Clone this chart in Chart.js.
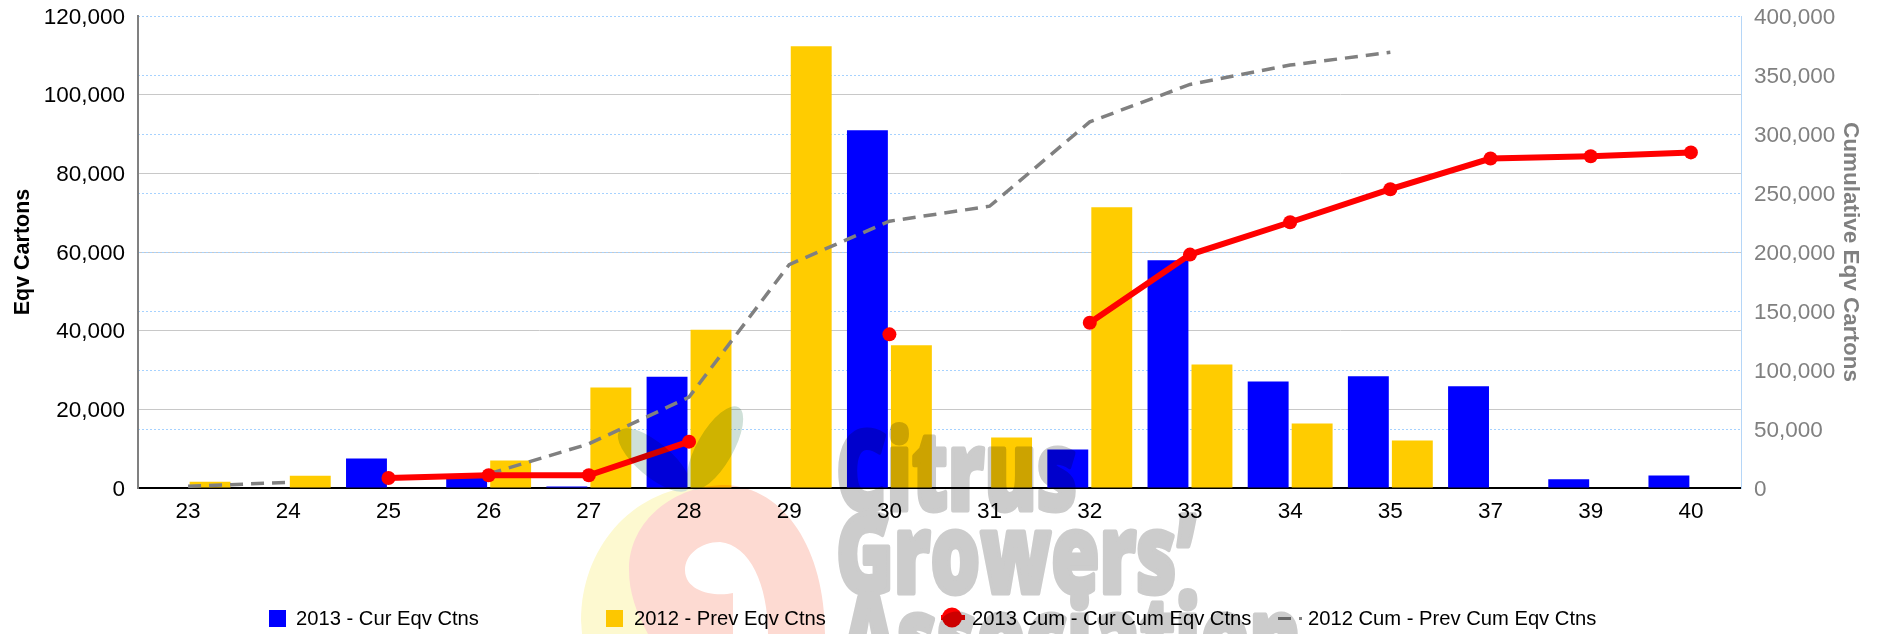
<!DOCTYPE html>
<html><head><meta charset="utf-8">
<style>
html,body{margin:0;padding:0;background:#fff;width:1885px;height:634px;overflow:hidden;font-family:"Liberation Sans",Arial,sans-serif}
#wrap{position:relative;width:1885px;height:634px;overflow:hidden}
canvas{display:block}
#overlay{position:absolute;left:0;top:0;mix-blend-mode:multiply;pointer-events:none}
.lg{position:absolute;top:605px;height:26px;line-height:26px;font-size:20.2px;color:#000;white-space:nowrap}
.mk{position:absolute}
</style></head><body>
<div id="wrap">
<canvas id="c" width="1885" height="634"></canvas>
<div id="legend"></div>
<svg id="overlay" width="1885" height="634" viewBox="0 0 1885 634">
  <path fill="#fdf9d0" d="M700,486 C630,490 581,550 581,620 L582,634 L650,634 L700,486Z"/>
  <path fill="#fddad2" fill-rule="evenodd" d="M629,570 C629,520 675,485 725,485 C785,487 825,550 825,634 L648,634 C636,612 629,592 629,570Z M685,570 C685,555 700,542 720,542 C750,545 768,585 768,634 L733,634 L733,593 C715,597 685,592 685,570Z"/>
  <ellipse cx="654" cy="460" rx="45" ry="17" transform="rotate(40 654 460)" fill="#cfe0d8"/>
  <ellipse cx="715" cy="448" rx="47" ry="18" transform="rotate(-60 715 448)" fill="#cfe0d8"/>
  <g font-family="Open Sans, sans-serif" font-weight="800" font-size="110" fill="#cccccc" stroke="#cccccc" stroke-width="5" stroke-linejoin="round">
    <text x="836" y="510" textLength="241" lengthAdjust="spacingAndGlyphs">Citrus</text>
    <text x="836" y="593" textLength="360" lengthAdjust="spacingAndGlyphs">Growers’</text>
    <text x="841" y="676" textLength="460" lengthAdjust="spacingAndGlyphs">Association</text>
  </g>
</svg>
</div>
<script src="https://cdn.jsdelivr.net/npm/chart.js@4"></script>
<script>
const categories = ['23','24','25','26','27','28','29','30','31','32','33','34','35','37','39','40'];
const cur2013 = [null,null,7470,3000,400,28300,null,90970,null,9800,57890,27100,28400,25900,2200,3200];
const prev2012 = [1600,3130,null,6960,25560,40250,112340,36300,12850,71370,31380,16400,12100,null,null,null];
const cum2013 = [null,null,8500,10760,10760,39300,null,130200,null,140100,197800,225200,253200,279200,281200,284400];
const cum2012 = [1400,4800,null,11900,37400,77000,189350,226100,238800,310300,342000,358400,369200,null,null,null];
const labels = ['2013 - Cur Eqv Ctns','2012 - Prev Eqv Ctns','2013 Cum - Cur Cum Eqv Ctns','2012 Cum - Prev Cum Eqv Ctns'];
const leftTicksMax = 120000, leftStep = 20000, rightTicksMax = 400000, rightStep = 50000;

const font = 'Liberation Sans, Arial, sans-serif';
const fmt = v => Number(v).toLocaleString('en-US');
const noPad = s => { s.paddingTop = 0; s.paddingBottom = 0; s.paddingLeft = 0; s.paddingRight = 0; };

new Chart(document.getElementById('c'), {
  type: 'bar',
  data: {
    labels: categories,
    datasets: [
      {type:'line',label:labels[2],data:cum2013,yAxisID:'y1',order:0,borderColor:'#ff0000',backgroundColor:'#ff0000',borderWidth:6,pointRadius:7,pointHoverRadius:7,pointBackgroundColor:'#ff0000',pointBorderWidth:0,tension:0,spanGaps:false},
      {type:'line',label:labels[3],data:cum2012,yAxisID:'y1',order:1,borderColor:'#808080',borderWidth:3.5,borderDash:[13,8],pointRadius:0,tension:0,spanGaps:false},
      {label:labels[0],data:cur2013,yAxisID:'y',order:2,backgroundColor:'#0000ff',categoryPercentage:0.878,barPercentage:0.93},
      {label:labels[1],data:prev2012,yAxisID:'y',order:3,backgroundColor:'#ffcc00',categoryPercentage:0.878,barPercentage:0.93}
    ]
  },
  options: {
    responsive:false, animation:false,
    layout:{padding:{left:10,right:21,top:16,bottom:0}},
    plugins:{legend:{display:false},title:{display:false},tooltip:{enabled:false}},
    scales:{
      x:{
        grid:{display:false,drawTicks:false},
        border:{display:true,color:'#000',width:2},
        ticks:{color:'#000',font:{family:font,size:22.5},padding:10,maxRotation:0,autoSkip:false},
        afterFit(s){s.height=146;noPad(s);}
      },
      y:{
        position:'left',min:0,max:leftTicksMax,
        grid:{color:c=>(c.tick.value===leftTicksMax||c.tick.value===0)?'rgba(0,0,0,0)':'#c8c8c8',lineWidth:1,drawTicks:false},
        border:{display:true,color:'#808080',width:2},
        ticks:{stepSize:leftStep,color:'#000',font:{family:font,size:22.5},padding:13,labelOffset:1.5,callback:fmt},
        title:{display:true,text:'Eqv Cartons',color:'#000',font:{family:font,size:21.5,weight:'bold'},padding:{top:0,bottom:0}},
        afterFit(s){s.width=128;noPad(s);}
      },
      y1:{
        position:'right',min:0,max:rightTicksMax,
        grid:{color:'#a6d2ff',lineWidth:1,drawTicks:false,drawOnChartArea:true},
        border:{display:true,color:'#b5d6f7',width:1,dash:[2,2]},
        ticks:{stepSize:rightStep,color:'#808080',font:{family:font,size:22.5},padding:13,labelOffset:1.5,callback:fmt},
        title:{display:true,text:'Cumulative Eqv Cartons',color:'#808080',font:{family:font,size:22.5,weight:'bold'},padding:{top:0,bottom:0}},
        afterFit(s){s.width=123;noPad(s);}
      }
    }
  }
});

const legendX = [
  {sw:269, tx:296},
  {sw:606, tx:634},
  {sw:941, tx:972},
  {sw:1278, tx:1308}
];
const box = document.getElementById('legend');
labels.forEach((t,i)=>{
  const d=document.createElement('div');d.className='lg';d.style.left=legendX[i].tx+'px';d.textContent=t;box.appendChild(d);
  const m=document.createElementNS('http://www.w3.org/2000/svg','svg');
  m.setAttribute('class','mk');m.setAttribute('width',30);m.setAttribute('height',30);
  m.style.left=legendX[i].sw+'px';m.style.top='603px';
  if(i<2) m.innerHTML='<rect x="0" y="7" width="17" height="17" fill="'+(i==0?'#0000ff':'#ffcc00')+'"/>';
  if(i==2) m.innerHTML='<rect x="0" y="12" width="24" height="5" fill="#ff0000"/><circle cx="11" cy="14.5" r="10" fill="#ff0000"/>';
  if(i==3) m.innerHTML='<rect x="0" y="14" width="13" height="3" fill="#808080"/><rect x="21" y="14" width="3" height="3" fill="#808080"/>';
  box.appendChild(m);
});
</script>
</body></html>
